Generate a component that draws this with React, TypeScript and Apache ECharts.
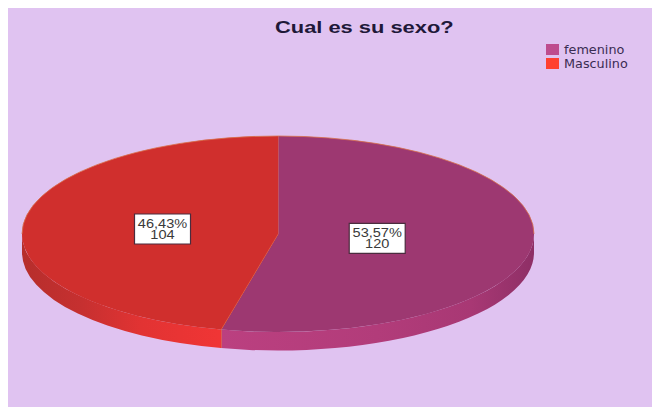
import React, { useEffect, useRef } from "react";
import * as echarts from "echarts";

const titleText = "Cual es su sexo?";
const categories = ["femenino", "Masculino"];
const values = [120, 104];
const legendColors = ["#BE4C8E", "#FF4030"];
const topColors = ["#9D3871", "#D02F2D"];
const wallColors = [
  [
    { offset: 0, color: "#BB4080" },
    { offset: 0.5, color: "#B23C7A" },
    { offset: 0.8, color: "#A83874" },
    { offset: 1, color: "#8E2F66" },
  ],
  [
    { offset: 0, color: "#B62E2C" },
    { offset: 0.3, color: "#C63030" },
    { offset: 0.6, color: "#E23333" },
    { offset: 1, color: "#F03535" },
  ],
];
const labelRadius = [0.39, 0.454];

const OFFSET = 8;
const CX = 278 - OFFSET;
const CY = 234 - OFFSET;
const RX = 256;
const RY = 98;
const DEPTH = 18.5;
const total = values.reduce((a, b) => a + b, 0);

const pt = (deg: number, dy = 0) => {
  const r = (deg * Math.PI) / 180;
  return [CX + RX * Math.sin(r), CY - RY * Math.cos(r) + dy];
};

function renderSlice(index: number) {
  return (_params: any, api: any) => {
    const value = api.value(0);
    const before = values.slice(0, index).reduce((a, b) => a + b, 0);
    const a0 = (before / total) * 360;
    const a1 = a0 + (value / total) * 360;
    const s = pt(a0);
    const e = pt(a1);
    const large = a1 - a0 > 180 ? 1 : 0;
    const topD = `M${CX} ${CY}L${s[0]} ${s[1]}A${RX} ${RY} 0 ${large} 1 ${e[0]} ${e[1]}Z`;
    const w0 = Math.max(a0, 90);
    const w1 = Math.min(a1, 270);
    const ws = pt(w0);
    const we = pt(w1);
    const wsd = pt(w0, DEPTH);
    const wed = pt(w1, DEPTH);
    const wallD = `M${ws[0]} ${ws[1]}A${RX} ${RY} 0 0 1 ${we[0]} ${we[1]}L${wed[0]} ${wed[1]}A${RX} ${RY} 0 0 0 ${wsd[0]} ${wsd[1]}Z`;
    // Only the far rim of the top face carries the thin outline.
    const r0 = index === 0 ? a0 : 270;
    const r1 = index === 0 ? 90 : a1;
    const rs = pt(r0);
    const re = pt(r1);
    const rimD = `M${rs[0]} ${rs[1]}A${RX} ${RY} 0 0 1 ${re[0]} ${re[1]}`;
    const mid = (a0 + a1) / 2;
    const rad = (mid * Math.PI) / 180;
    const lx = CX + RX * labelRadius[index] * Math.sin(rad);
    const ly = CY - RY * labelRadius[index] * Math.cos(rad);
    const pct = ((value / total) * 100).toFixed(2).replace(".", ",") + "%";
    const children: any[] = [
      {
        type: "path",
        shape: { pathData: wallD },
        style: {
          fill: new echarts.graphic.LinearGradient(0, 0, 1, 0, wallColors[index]),
          stroke: "none",
        },
      },
      {
        type: "path",
        shape: { pathData: topD },
        style: { fill: topColors[index], stroke: "none" },
      },
      {
        type: "path",
        shape: { pathData: rimD },
        style: { fill: "none", stroke: "#D8704A", lineWidth: 0.8 },
      },
    ];
    if (index === 0) {
      children.push(
        {
          type: "path",
          shape: { pathData: `M${CX} ${CY}L${s[0]} ${s[1]}` },
          style: { fill: "none", stroke: "#DC6F5E", lineWidth: 1 },
        },
        {
          type: "path",
          shape: { pathData: `M${CX} ${CY}L${e[0]} ${e[1]}L${e[0]} ${e[1] + DEPTH}` },
          style: { fill: "none", stroke: "#F0703A", lineWidth: 1 },
        }
      );
    }
    children.push(
      {
        type: "rect",
        z2: 10,
        shape: { x: lx - 28, y: ly - 15, width: 56, height: 30 },
        style: { fill: "#FFFFFF", stroke: "#4A2C3E", lineWidth: 1.2 },
      },
      {
        type: "text",
        z2: 11,
        x: lx,
        y: ly,
        scaleX: 1.12,
        style: {
          text: `${pct}\n${value}`,
          fontFamily: "Liberation Sans",
          fontSize: 13,
          lineHeight: 11,
          fill: "#3A3A3A",
          align: "center",
          verticalAlign: "middle",
        },
      }
    );
    return { type: "group", children };
  };
}

export default function App() {
  const ref = useRef<HTMLDivElement>(null);
  useEffect(() => {
    document.documentElement.style.overflow = "hidden";
    const chart = echarts.init(ref.current!, null, { renderer: "svg" });
    chart.setOption({
      animation: false,
      backgroundColor: "#E0C3F1",
      legend: {
        data: categories,
        orient: "vertical",
        left: 546 - OFFSET,
        top: 43 - OFFSET,
        padding: 0,
        itemWidth: 13,
        itemHeight: 11,
        itemGap: 1,
        icon: "rect",
        selectedMode: false,
        textStyle: { fontFamily: "DejaVu Sans", fontSize: 12.8, color: "#3A2C52" },
      },
      graphic: [
        {
          type: "text",
          x: 275 - OFFSET,
          y: 27 - OFFSET,
          scaleX: 1.31,
          style: {
            text: titleText,
            fontFamily: "Liberation Sans",
            fontWeight: "bold",
            fontSize: 16.7,
            fill: "#201838",
            align: "left",
            verticalAlign: "middle",
          },
        },
      ],
      series: categories.map((name, i) => ({
        type: "custom",
        name,
        coordinateSystem: "none",
        silent: true,
        clip: false,
        itemStyle: { color: legendColors[i] },
        data: [[values[i]]],
        renderItem: renderSlice(i),
      })),
    });
    return () => chart.dispose();
  }, []);
  return <div ref={ref} style={{ width: 652, height: 399 }} />;
}
